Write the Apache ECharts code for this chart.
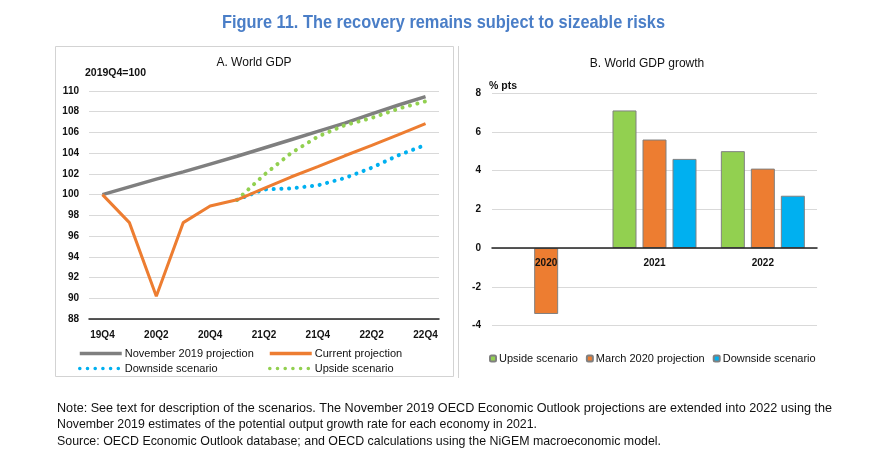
<!DOCTYPE html>
<html>
<head>
<meta charset="utf-8">
<script src="https://cdn.jsdelivr.net/npm/echarts@6/dist/echarts.min.js"></script>
<style>
html,body{margin:0;padding:0;background:#fff;}
#c{width:891px;height:462px;}
</style>
</head>
<body>
<div id="c"></div>
<script>
// ---- Data ----
const quarters = ['19Q4','20Q1','20Q2','20Q3','20Q4','21Q1','21Q2','21Q3','21Q4','22Q1','22Q2','22Q3','22Q4'];
const nov2019Projection = [100, 100.75, 101.5, 102.2, 102.95, 103.7, 104.5, 105.3, 106.1, 106.9, 107.8, 108.65, 109.45];
const currentProjection = [100, 97.3, 90.2, 97.3, 98.9, 99.5, 100.6, 101.7, 102.7, 103.75, 104.75, 105.8, 106.85];
const downsideScenario  = [null, null, null, null, null, 99.5, 100.5, 100.6, 100.9, 101.6, 102.6, 103.8, 104.8];
const upsideScenario    = [null, null, null, null, null, 99.5, 101.9, 104.0, 105.6, 106.7, 107.4, 108.3, 109.0];

const years = ['2020','2021','2022'];
const upsideGrowth   = [null, 7.1, 5.0];
const march2020Growth = [-3.4, 5.6, 4.1];
const downsideGrowth = [null, 4.6, 2.7];

const gdpTicks = {min: 88, max: 110, interval: 2};
const growthTicks = {min: -4, max: 8, interval: 2};

const titleText = 'Figure 11. The recovery remains subject to sizeable risks';
const noteLines = [
  'Note: See text for description of the scenarios. The November 2019 OECD Economic Outlook projections are extended into 2022 using the',
  'November 2019 estimates of the potential output growth rate for each economy in 2021.',
  'Source: OECD Economic Outlook database; and OECD calculations using the NiGEM macroeconomic model.'
];

// ---- Helpers ----
const ctx = document.createElement('canvas').getContext('2d');
function fitScale(text, font, target){ ctx.font = font; return target / ctx.measureText(text).width; }

const C_GREY = '#7f7f7f', C_ORANGE = '#ED7D31', C_BLUE = '#00B0F0', C_GREEN = '#92D050';
const FONT = '"Liberation Sans", Arial, sans-serif';
const axisLabelStyle = {color:'#111', fontSize:10, fontWeight:'bold', fontFamily: FONT};

const titleFont = 'bold 19px "Liberation Sans", Arial';
const noteFont = '13px "Liberation Sans", Arial';
const noteWidths = [775, 480, 604];
const noteY = [408, 424.5, 441];

const graphics = [
  {type:'rect', shape:{x:55.5, y:46.5, width:398, height:330}, style:{fill:'none', stroke:'#d3d3d3', lineWidth:1}, silent:true},
  {type:'line', shape:{x1:458.5, y1:46, x2:458.5, y2:378}, style:{stroke:'#d3d3d3', lineWidth:1}, silent:true},
  {type:'text', x:443.5, y:23, scaleX: fitScale(titleText, titleFont, 443),
    style:{text:titleText, font:titleFont, fill:'#4A7EC7', textAlign:'center', textVerticalAlign:'middle'}},
  {type:'text', x:254, y:63, style:{text:'A. World GDP', font:'12px "Liberation Sans", Arial', fill:'#111', textAlign:'center', textVerticalAlign:'middle'}},
  {type:'text', x:647, y:64, style:{text:'B. World GDP growth', font:'12px "Liberation Sans", Arial', fill:'#111', textAlign:'center', textVerticalAlign:'middle'}},
  {type:'text', x:85, y:73, style:{text:'2019Q4=100', font:'bold 10.5px "Liberation Sans", Arial', fill:'#111', textAlign:'left', textVerticalAlign:'middle'}},
  {type:'text', x:489, y:86, style:{text:'% pts', font:'bold 10.5px "Liberation Sans", Arial', fill:'#111', textAlign:'left', textVerticalAlign:'middle'}}
];
noteLines.forEach((t,i)=>{
  graphics.push({type:'text', x:57, y:noteY[i], scaleX: fitScale(t, noteFont, noteWidths[i]),
    style:{text:t, font:noteFont, fill:'#111', textAlign:'left', textVerticalAlign:'middle'}});
});

const dotted = [0.1, 7.6];

// right grid geometry; x axis sits at value 0
const g2 = {left:492, right:74, top:93, bottom:136.4};
const g2Height = 462 - g2.top - g2.bottom;
const zeroOffset = -(0 - growthTicks.min) / (growthTicks.max - growthTicks.min) * g2Height;

const lineLegend = {orient:'vertical', top:348, padding:0, itemWidth:42, itemHeight:10, itemGap:4,
  itemStyle:{opacity:0}, lineStyle:{width:3.5},
  textStyle:{fontSize:11, color:'#111', padding:[0,0,0,-2]}, selectedMode:false};

const option = {
  animation:false,
  backgroundColor:'#fff',
  textStyle:{fontFamily: FONT},
  graphic: graphics,
  grid:[
    {left:89, right:452, top:91, bottom:143},
    g2
  ],
  legend:[
    Object.assign({left:78, data:['November 2019 projection','Downside scenario']}, lineLegend),
    Object.assign({left:268, data:['Current projection','Upside scenario']}, lineLegend),
    {orient:'horizontal', left:489, top:353, padding:0, itemWidth:6, itemHeight:6, itemGap:8,
     data:['Upside scenario (B)','March 2020 projection','Downside scenario (B)'],
     formatter: n => n.replace(' (B)',''),
     textStyle:{fontSize:11, color:'#111', padding:[0,0,0,-2]}, selectedMode:false}
  ],
  xAxis:[
    {gridIndex:0, type:'category', data:quarters, boundaryGap:true, z:10,
     axisLine:{lineStyle:{color:'#222', width:1.5}},
     axisTick:{inside:true, length:4, interval:0, lineStyle:{color:'#222', width:1.2}},
     axisLabel:Object.assign({interval:1, margin:11}, axisLabelStyle)},
    {gridIndex:1, type:'category', data:years, boundaryGap:true, z:10, offset: zeroOffset,
     axisLine:{onZero:false, lineStyle:{color:'#222', width:1.5}},
     axisTick:{inside:true, length:4, lineStyle:{color:'#222', width:1.2}},
     axisLabel:Object.assign({margin:10}, axisLabelStyle)}
  ],
  yAxis:[
    {gridIndex:0, type:'value', min:gdpTicks.min, max:gdpTicks.max, interval:gdpTicks.interval,
     axisLine:{show:false}, axisTick:{show:false},
     splitLine:{lineStyle:{color:'#d9d9d9', width:1}},
     axisLabel:Object.assign({margin:10}, axisLabelStyle)},
    {gridIndex:1, type:'value', min:growthTicks.min, max:growthTicks.max, interval:growthTicks.interval,
     axisLine:{show:false}, axisTick:{show:false},
     splitLine:{lineStyle:{color:'#d9d9d9', width:1}},
     axisLabel:Object.assign({margin:11}, axisLabelStyle)}
  ],
  series:[
    {name:'November 2019 projection', type:'line', xAxisIndex:0, yAxisIndex:0, data:nov2019Projection,
     symbol:'none', lineStyle:{color:C_GREY, width:3.5}, itemStyle:{color:C_GREY}, z:3},
    {name:'Current projection', type:'line', xAxisIndex:0, yAxisIndex:0, data:currentProjection,
     symbol:'none', lineStyle:{color:C_ORANGE, width:3}, itemStyle:{color:C_ORANGE}, z:5},
    {name:'Downside scenario', type:'line', xAxisIndex:0, yAxisIndex:0, data:downsideScenario,
     symbol:'none', lineStyle:{color:C_BLUE, width:4, type:dotted, cap:'round'}, itemStyle:{color:C_BLUE}, z:4},
    {name:'Upside scenario', type:'line', xAxisIndex:0, yAxisIndex:0, data:upsideScenario,
     symbol:'none', lineStyle:{color:C_GREEN, width:4, type:dotted, cap:'round'}, itemStyle:{color:C_GREEN}, z:4},
    {name:'Upside scenario (B)', type:'bar', xAxisIndex:1, yAxisIndex:1, data:upsideGrowth,
     barWidth:24, barGap:'25%', itemStyle:{color:C_GREEN, borderColor:'#808080', borderWidth:1}},
    {name:'March 2020 projection', type:'bar', xAxisIndex:1, yAxisIndex:1, data:march2020Growth,
     barWidth:24, barGap:'25%', itemStyle:{color:C_ORANGE, borderColor:'#808080', borderWidth:1}},
    {name:'Downside scenario (B)', type:'bar', xAxisIndex:1, yAxisIndex:1, data:downsideGrowth,
     barWidth:24, barGap:'25%', itemStyle:{color:C_BLUE, borderColor:'#808080', borderWidth:1}}
  ]
};

const chart = echarts.init(document.getElementById('c'), null, {renderer:'canvas'});
chart.setOption(option);
</script>
</body>
</html>
